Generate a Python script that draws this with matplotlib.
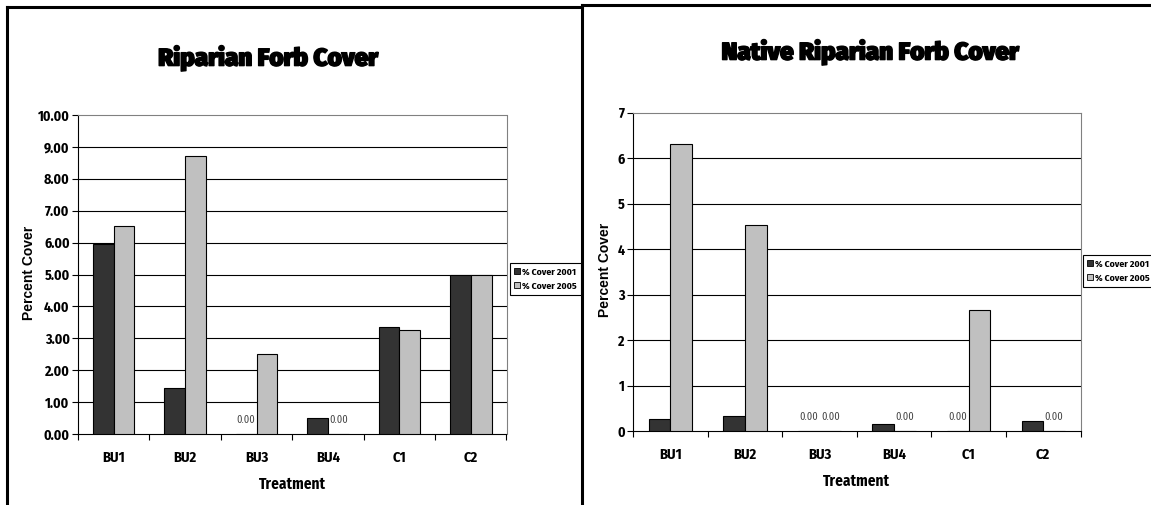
import numpy as np
import matplotlib
matplotlib.use("Agg")
import matplotlib.pyplot as plt
import matplotlib.patheffects as pe
from matplotlib.lines import Line2D
from matplotlib.patches import Patch

treatments = ["BU1", "BU2", "BU3", "BU4", "C1", "C2"]

forb_2001 = [5.95, 1.44, 0.0, 0.51, 3.35, 5.0]
forb_2005 = [6.52, 8.70, 2.51, 0.0, 3.27, 5.0]

native_2001 = [0.26, 0.32, 0.0, 0.15, 0.0, 0.22]
native_2005 = [6.31, 4.53, 0.0, 0.0, 2.67, 0.0]

series_names = ["% Cover 2001", "% Cover 2005"]
dark = "#333333"
light = "#c0c0c0"

narrow = ["Fira Sans Condensed", "Liberation Sans Narrow", "DejaVu Sans"]
wide = ["Liberation Sans", "DejaVu Sans"]
heavy = ["Fira Sans", "DejaVu Sans"]
W, H = 1151, 505

fig = plt.figure(figsize=(W / 100, H / 100), dpi=100)


def px(x, y):
    return x / W, 1 - y / H


def draw_panel(box, v1, v2, ymax, fmt, title, title_xy, ylab_x, leg_xy):
    l, t, r, b = box
    ax = fig.add_axes([l / W, 1 - b / H, (r - l) / W, (b - t) / H])
    x = np.arange(len(treatments)) + 0.5
    w = 0.29
    ax.bar(x - w / 2, v1, w, color=dark, edgecolor="black", linewidth=0.8, zorder=3)
    ax.bar(x + w / 2, v2, w, color=light, edgecolor="black", linewidth=0.8, zorder=3)

    # zero labels like excel
    for xs, vals in ((x - w / 2, v1), (x + w / 2, v2)):
        for xi, v in zip(xs, vals):
            if v == 0:
                ax.annotate("0.00", (xi, 0), xytext=(0, 14), textcoords="offset pixels",
                            ha="center", va="center", fontsize=7.5, color="#444444",
                            family=narrow)

    ax.set_xlim(0, len(treatments))
    ax.set_ylim(0, ymax)
    ax.set_xticks(np.arange(len(treatments) + 1))
    ax.set_xticklabels([])
    ax.set_xticks(x, minor=True)
    ax.set_xticklabels(treatments, minor=True, fontsize=10.5, fontweight="bold", family=narrow)
    ax.tick_params(axis="x", which="major", direction="out", length=4.5, width=0.8)
    ax.tick_params(axis="x", which="minor", length=0, pad=12)
    yt = np.arange(0, ymax + 1)
    ax.set_yticks(yt)
    ax.set_yticklabels([fmt.format(v) for v in yt], fontsize=10, fontweight="bold", family=narrow)
    ax.tick_params(axis="y", direction="out", length=4, width=0.8, pad=2)

    for v in yt[1:-1]:
        ax.axhline(v, color="black", linewidth=0.8, zorder=1)
    for s in ("top", "right"):
        ax.spines[s].set_color("#808080")
        ax.spines[s].set_linewidth(0.8)
    for s in ("left", "bottom"):
        ax.spines[s].set_color("black")
        ax.spines[s].set_linewidth(0.8)

    ax.set_ylabel("Percent Cover", fontsize=10, fontweight="bold", family=wide)
    ax.yaxis.set_label_coords(ylab_x, 0.505)
    ax.set_xlabel("Treatment", fontsize=11, fontweight="bold", family=narrow)
    ax.xaxis.set_label_coords(0.5, -0.132)

    fig.text(*px(*title_xy), title, ha="center", va="center", fontsize=17.5,
             fontweight=900, family=heavy,
             path_effects=[pe.withStroke(linewidth=1.0, foreground="black")])

    handles = [Patch(facecolor=dark, edgecolor="black", linewidth=0.6),
               Patch(facecolor=light, edgecolor="black", linewidth=0.6)]
    leg = fig.legend(handles, series_names, loc="upper left", bbox_to_anchor=px(*leg_xy),
                     bbox_transform=fig.transFigure, fancybox=False, framealpha=1,
                     edgecolor="black", handlelength=0.6, handleheight=0.6,
                     handletextpad=0.2, borderpad=0.45, labelspacing=0.55, borderaxespad=0,
                     prop={"family": narrow, "weight": "bold", "size": 7})
    leg.get_frame().set_linewidth(0.8)
    return ax


draw_panel((78, 115, 506.5, 434), forb_2001, forb_2005, 10, "{:.2f}",
           "Riparian Forb Cover", (268, 58), -0.098, (510, 263))
draw_panel((633, 112.7, 1080.5, 431), native_2001, native_2005, 7, "{:.0f}",
           "Native Riparian Forb Cover", (870, 52), -0.047, (1083, 255))

# outer frames
lw = 2.2
fig.add_artist(Line2D([7 / W, 7 / W], [0, 1 - 7 / H], color="black", linewidth=lw))
fig.add_artist(Line2D([7 / W, 582 / W], [1 - 7 / H, 1 - 7 / H], color="black", linewidth=lw))
fig.add_artist(Line2D([582 / W, 582 / W], [0, 1 - 5 / H], color="black", linewidth=lw))
fig.add_artist(Line2D([582 / W, 1], [1 - 5 / H, 1 - 5 / H], color="black", linewidth=lw))

fig.savefig("out.png", dpi=100)
